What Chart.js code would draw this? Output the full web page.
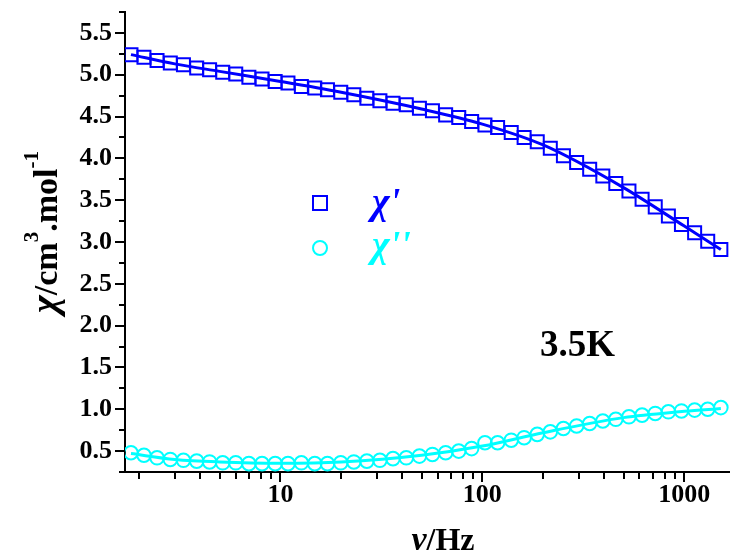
<!DOCTYPE html>
<html>
<head>
<meta charset="utf-8">
<script src="https://cdn.jsdelivr.net/npm/chart.js@4/dist/chart.umd.min.js"></script>
<style>
    html, body { margin: 0; padding: 0; background: #fff; }
    #wrap { width: 741px; height: 555px; }
</style>
</head>
<body>
<div id="wrap"><canvas id="acChart" width="741" height="555"></canvas></div>
<script>
// frequencies (Hz)
const freq = [1.82, 2.11, 2.45, 2.85, 3.31, 3.85, 4.46, 5.18, 6.01, 6.98,
    8.11, 9.42, 10.9, 12.7, 14.8, 17.1, 19.9, 23.1, 26.8, 31.1,
    36.1, 42.0, 48.8, 56.6, 65.8, 76.4, 88.5, 103, 119, 139,
    161, 187, 217, 252, 293, 340, 395, 458, 532, 618,
    718, 834, 968, 1125, 1306, 1517];
// chi' (squares)
const chiReal = [5.24, 5.21, 5.17, 5.14, 5.12, 5.08, 5.06, 5.03, 5.01, 4.97,
    4.95, 4.92, 4.90, 4.86, 4.84, 4.82, 4.79, 4.76, 4.72, 4.69,
    4.66, 4.64, 4.60, 4.57, 4.52, 4.49, 4.44, 4.40, 4.37, 4.31,
    4.25, 4.20, 4.12, 4.03, 3.95, 3.87, 3.79, 3.70, 3.61, 3.51,
    3.42, 3.31, 3.21, 3.11, 3.01, 2.91];
// chi'' (circles)
const chiImag = [0.48, 0.45, 0.42, 0.40, 0.39, 0.38, 0.37, 0.36, 0.36, 0.35,
    0.35, 0.35, 0.35, 0.36, 0.35, 0.35, 0.36, 0.37, 0.38, 0.39,
    0.41, 0.42, 0.44, 0.46, 0.48, 0.50, 0.53, 0.60, 0.60, 0.63,
    0.66, 0.70, 0.73, 0.77, 0.80, 0.83, 0.86, 0.88, 0.91, 0.93,
    0.95, 0.97, 0.98, 0.99, 1.00, 1.02];
// fitted curves
const fitFreq = [1.82, 3, 5, 10, 20, 50, 100, 200, 500, 1000, 1517];
const fitReal = [5.24, 5.13, 5.04, 4.92, 4.79, 4.59, 4.41, 4.16, 3.65, 3.19, 2.91];
const fitImag = [0.47, 0.40, 0.37, 0.355, 0.37, 0.45, 0.56, 0.72, 0.90, 0.975, 1.01];

const yTicks = [0.5, 1.0, 1.5, 2.0, 2.5, 3.0, 3.5, 4.0, 4.5, 5.0, 5.5];
const xTicks = [10, 100, 1000];

const BLUE = '#0000ff';
const CYAN = '#00ffff';
const SERIF = "'Liberation Serif', 'Times New Roman', serif";

const pts = (xs, ys) => xs.map((v, i) => ({x: v, y: ys[i]}));

// draws a row of text pieces centred on x
function drawRuns(ctx, runs, x, y) {
    let w = 0;
    runs.forEach(r => { ctx.font = r.font; w += ctx.measureText(r.t).width; });
    let cx = x - w / 2;
    runs.forEach(r => {
        ctx.font = r.font;
        ctx.fillText(r.t, cx, y + (r.dy || 0));
        cx += ctx.measureText(r.t).width;
    });
}

const decor = {
    id: 'decor',
    afterDraw(chart) {
        const {ctx, chartArea: a} = chart;
        const x = chart.scales.x, y = chart.scales.y;
        ctx.save();

        // tick marks, outward
        ctx.strokeStyle = '#000';
        ctx.lineWidth = 2;
        ctx.beginPath();
        for (let v = 0.25; v <= y.max + 1e-6; v += 0.25) {
            const py = Math.round(y.getPixelForValue(v));
            const len = yTicks.some(t => Math.abs(t - v) < 1e-6) ? 10 : 6;
            ctx.moveTo(a.left - len, py);
            ctx.lineTo(a.left, py);
        }
        for (let d = 1; d <= 1000; d *= 10) {
            for (let m = 1; m < 10; m++) {
                const v = m * d;
                if (v < x.min || v > x.max) continue;
                const px = Math.round(x.getPixelForValue(v));
                const len = m === 1 ? 10 : 7;
                ctx.moveTo(px, a.bottom);
                ctx.lineTo(px, a.bottom + len);
            }
        }
        ctx.stroke();

        ctx.fillStyle = '#000';
        ctx.textBaseline = 'alphabetic';
        ctx.textAlign = 'left';

        // y title, rotated
        ctx.save();
        ctx.translate(57, 232);
        ctx.rotate(-Math.PI / 2);
        drawRuns(ctx, [
            {t: 'χ', font: 'italic bold 38px ' + SERIF},
            {t: '/cm', font: 'bold 34px ' + SERIF},
            {t: '3', font: 'bold 21px ' + SERIF, dy: -19},
            {t: '.mol', font: 'bold 34px ' + SERIF},
            {t: '-1', font: 'bold 21px ' + SERIF, dy: -19}
        ], 0, 0);
        ctx.restore();

        // x title
        drawRuns(ctx, [
            {t: 'ν', font: 'italic bold 34px ' + SERIF},
            {t: '/Hz', font: 'bold 32px ' + SERIF}
        ], 443, 550);

        // temperature label
        ctx.font = 'bold 37px ' + SERIF;
        ctx.fillText('3.5K', 540, 356);

        // legend
        const ds = chart.data.datasets;
        ctx.lineWidth = 2;
        ctx.strokeStyle = ds[0].pointBorderColor;
        ctx.strokeRect(313, 196, 14, 14);
        ctx.strokeStyle = ds[1].pointBorderColor;
        ctx.beginPath();
        ctx.arc(320, 248, 7, 0, Math.PI * 2);
        ctx.stroke();
        ctx.font = 'italic bold 38px ' + SERIF;
        ctx.fillStyle = ds[0].pointBorderColor;
        ctx.fillText("χ'", 372, 214);
        ctx.fillStyle = ds[1].pointBorderColor;
        ctx.fillText("χ''", 372, 257);

        ctx.restore();
    }
};

const tickFont = {family: SERIF, size: 26, weight: 'bold'};

new Chart(document.getElementById('acChart'), {
    type: 'line',
    data: {
        datasets: [
            {label: "χ'", data: pts(freq, chiReal), showLine: false, order: 1,
             pointStyle: 'rect', pointRadius: 9.2, pointBorderWidth: 2,
             pointBorderColor: BLUE, pointBackgroundColor: 'rgba(0,0,0,0)'},
            {label: "χ''", data: pts(freq, chiImag), showLine: false, order: 1,
             pointStyle: 'circle', pointRadius: 6.8, pointBorderWidth: 2,
             pointBorderColor: CYAN, pointBackgroundColor: 'rgba(0,0,0,0)'},
            {label: 'fit1', data: pts(fitFreq, fitReal), order: 2, pointRadius: 0,
             borderColor: BLUE, borderWidth: 3, cubicInterpolationMode: 'monotone', fill: false},
            {label: 'fit2', data: pts(fitFreq, fitImag), order: 2, pointRadius: 0,
             borderColor: CYAN, borderWidth: 3, cubicInterpolationMode: 'monotone', fill: false}
        ]
    },
    options: {
        responsive: false,
        animation: false,
        devicePixelRatio: 1,
        layout: {padding: {top: 12, right: 0, left: 0, bottom: 0}},
        plugins: {legend: {display: false}, tooltip: {enabled: false}},
        scales: {
            x: {
                type: 'logarithmic', min: 1.7, max: 1680, position: 'bottom',
                grid: {display: false, drawTicks: false},
                border: {display: true, color: '#000', width: 2},
                afterBuildTicks: s => { s.ticks = xTicks.map(v => ({value: v})); },
                afterFit: s => { s.height = 83; s.paddingLeft = 0; s.paddingRight = 0; },
                ticks: {color: '#000', font: tickFont, padding: 8, maxRotation: 0, autoSkip: false,
                        callback: v => String(v)}
            },
            y: {
                min: 0.25, max: 5.75,
                grid: {display: false, drawTicks: false},
                border: {display: true, color: '#000', width: 2},
                afterBuildTicks: s => { s.ticks = yTicks.map(v => ({value: v})); },
                afterFit: s => { s.width = 125; s.paddingTop = 0; s.paddingBottom = 0; },
                ticks: {color: '#000', font: tickFont, padding: 13,
                        callback: v => v.toFixed(1)}
            }
        }
    },
    plugins: [decor]
});
</script>
</body>
</html>
